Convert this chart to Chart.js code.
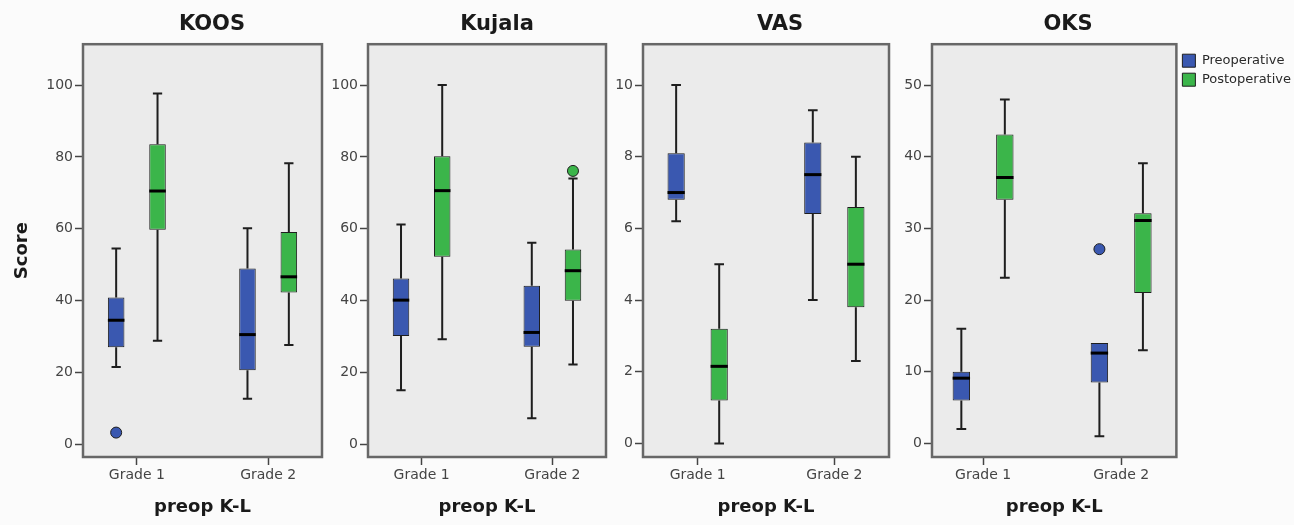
<!DOCTYPE html>
<html>
<head>
<meta charset="utf-8">
<title>Scores by preop K-L grade</title>
<script src="https://cdn.jsdelivr.net/npm/chart.js@4.4.1/dist/chart.umd.min.js"></script>
<style>
  html, body { margin: 0; padding: 0; background: #fbfbfb; }
  body { position: relative; width: 1294px; height: 525px; overflow: hidden; }
  canvas { position: absolute; top: 0; }
</style>
</head>
<body>
<canvas id="c0" width="424" height="525" style="left:0px"></canvas>
<canvas id="c1" width="334" height="525" style="left:330px"></canvas>
<canvas id="c2" width="330" height="525" style="left:615px"></canvas>
<canvas id="c3" width="466" height="525" style="left:835px"></canvas>
<script>
const grades = ['Grade 1', 'Grade 2'];
const seriesNames = ['Preoperative', 'Postoperative'];
const titles = ['KOOS', 'Kujala', 'VAS', 'OKS'];

// five-number summaries [min, q1, median, q3, max], one per grade
const koosPre = [[21.5, 27, 34.5, 40.8, 54.5], [12.6, 20.6, 30.5, 48.9, 60.1]];
const koosPost = [[28.8, 59.7, 70.5, 83.5, 97.7], [27.6, 42.2, 46.6, 59.1, 78.2]];
const kujalaPre = [[15, 30.1, 40.1, 46.1, 61.2], [7.2, 27.1, 31.1, 44.1, 56.1]];
const kujalaPost = [[29.2, 52.2, 70.6, 80.2, 100], [22.2, 39.9, 48.3, 54.2, 74]];
const vasPre = [[6.2, 6.8, 7.0, 8.1, 10], [4.0, 6.4, 7.5, 8.4, 9.3]];
const vasPost = [[0, 1.2, 2.15, 3.2, 5.0], [2.3, 3.8, 5.0, 6.6, 8.0]];
const oksPre = [[2.0, 6.0, 9.1, 10, 16], [1.0, 8.5, 12.6, 14, 14]];
const oksPost = [[23.1, 34.0, 37.1, 43.1, 48], [13, 21, 31.1, 32.1, 39.1]];

// outliers, one list per grade
const koosPreOut = [[3.2], []];
const kujalaPostOut = [[], [76.1]];
const oksPreOut = [[], [27.1]];
const noOut = [[], []];

const yMins = [-3.6, -3.6, -0.38, -1.9];
const yMaxs = [111.4, 111.4, 11.14, 55.7];
const ySteps = [20, 20, 2, 10];
const xMins = [-0.41, -0.41, -0.40, -0.37];
const xMaxs = [1.41, 1.41, 1.40, 1.40];

const BLUE = '#3a58b0';
const GREEN = '#3bb54a';
const CAT_PCT = 0.63;
const FONT = 'DejaVu Sans';

// whiskers, medians, plot background and frame
const boxParts = {
  id: 'boxParts',
  beforeDraw(chart) {
    const {ctx, chartArea: a} = chart;
    ctx.save();
    ctx.fillStyle = '#ebebeb';
    ctx.fillRect(a.left, a.top, a.width, a.height);
    ctx.restore();
  },
  beforeDatasetsDraw(chart) {
    const {ctx, scales: {y}} = chart;
    ctx.save();
    ctx.strokeStyle = '#1e1e1e';
    ctx.lineWidth = 2;
    chart.data.datasets.forEach((ds, di) => {
      if (!ds.stats) return;
      chart.getDatasetMeta(di).data.forEach((bar, j) => {
        const s = ds.stats[j];
        const cap = bar.width * 0.28;
        [[s[3], s[4]], [s[1], s[0]]].forEach(([from, to]) => {
          if (from === to) return;
          const y0 = y.getPixelForValue(from), y1 = y.getPixelForValue(to);
          ctx.beginPath();
          ctx.moveTo(bar.x, y0); ctx.lineTo(bar.x, y1);
          ctx.moveTo(bar.x - cap, y1); ctx.lineTo(bar.x + cap, y1);
          ctx.stroke();
        });
      });
    });
    ctx.restore();
  },
  afterDatasetsDraw(chart) {
    const {ctx, scales: {y}} = chart;
    ctx.save();
    ctx.strokeStyle = '#000';
    ctx.lineWidth = 3;
    chart.data.datasets.forEach((ds, di) => {
      if (!ds.stats) return;
      chart.getDatasetMeta(di).data.forEach((bar, j) => {
        const ym = y.getPixelForValue(ds.stats[j][2]);
        ctx.beginPath();
        ctx.moveTo(bar.x - bar.width / 2, ym);
        ctx.lineTo(bar.x + bar.width / 2, ym);
        ctx.stroke();
      });
    });
    ctx.restore();
  },
  afterDraw(chart) {
    const {ctx, chartArea: a} = chart;
    ctx.save();
    ctx.strokeStyle = '#676767';
    ctx.lineWidth = 2.5;
    ctx.strokeRect(a.left, a.top, a.width, a.height);
    ctx.restore();
  }
};

function boxData(stats) {
  return stats.map((s, i) => ({x: i, y: [s[1], s[3]]}));
}

function outlierData(out, side) {
  const pts = [];
  out.forEach((vals, i) => vals.forEach(v => pts.push({x: i + side * CAT_PCT / 4, y: v})));
  return pts;
}

function makePanel(id, k, pre, post, preOut, postOut, yW, rW) {
  const tickFont = {family: FONT, size: 14};
  const tickGrid = {drawOnChartArea: false, drawTicks: true, tickLength: 8, tickColor: '#444', tickWidth: 1.5};
  const scales = {
    x: {
      type: 'linear', min: xMins[k], max: xMaxs[k], offset: false,
      grid: Object.assign({offset: false}, tickGrid),
      border: {display: false},
      afterBuildTicks: s => { s.ticks = [{value: 0}, {value: 1}]; },
      afterFit: s => { s.height = 68; },
      ticks: {font: tickFont, color: '#444', padding: 2, autoSkip: false, maxRotation: 0,
        callback: v => grades[v]},
      title: {display: true, text: 'preop K-L', color: '#1a1a1a',
        font: {family: FONT, size: 18, weight: 'bold'}, padding: {top: 0, bottom: 7}}
    },
    y: {
      min: yMins[k], max: yMaxs[k],
      grid: tickGrid,
      border: {display: false},
      afterFit: s => { s.width = yW; },
      ticks: {stepSize: ySteps[k], includeBounds: false, font: tickFont, color: '#444', padding: 2},
      title: {display: k === 0, text: 'Score', color: '#1a1a1a',
        font: {family: FONT, size: 18, weight: 'bold'}, padding: {top: 12, bottom: 0}}
    }
  };
  if (rW) {
    scales.yr = {position: 'right', grid: {display: false}, border: {display: false},
      ticks: {display: false}, afterFit: s => { s.width = rW; }};
  }
  new Chart(document.getElementById(id), {
    type: 'bar',
    data: {
      datasets: [
        {label: seriesNames[0], data: boxData(pre), stats: pre, backgroundColor: BLUE,
          borderColor: '#1e1e1e', borderWidth: 1, borderSkipped: false,
          categoryPercentage: CAT_PCT, barPercentage: 0.4},
        {label: seriesNames[1], data: boxData(post), stats: post, backgroundColor: GREEN,
          borderColor: '#1e1e1e', borderWidth: 1, borderSkipped: false,
          categoryPercentage: CAT_PCT, barPercentage: 0.4},
        {type: 'scatter', label: 'out-pre', data: outlierData(preOut, -1), order: -1,
          pointRadius: 5.5, backgroundColor: BLUE, borderColor: '#1e1e1e', borderWidth: 1},
        {type: 'scatter', label: 'out-post', data: outlierData(postOut, 1), order: -1,
          pointRadius: 5.5, backgroundColor: GREEN, borderColor: '#1e1e1e', borderWidth: 1}
      ]
    },
    options: {
      responsive: false,
      animation: false,
      devicePixelRatio: 1,
      layout: {padding: 0},
      scales: scales,
      plugins: {
        tooltip: {enabled: false},
        title: {display: true, text: titles[k], color: '#1a1a1a',
          font: {family: FONT, size: 21, weight: 'bold'}, padding: {top: 12, bottom: 7}},
        legend: {
          display: k === 3, position: 'right', align: 'start', fullSize: false, maxWidth: 200,
          title: {display: true, text: '', font: {size: 2}, padding: {top: 1.6, bottom: 0}},
          labels: {boxWidth: 13, boxHeight: 13, padding: 6, color: '#2a2a2a',
            font: {family: FONT, size: 13},
            filter: item => item.datasetIndex < 2}
        }
      }
    },
    plugins: [boxParts]
  });
}

makePanel('c0', 0, koosPre, koosPost, koosPreOut, noOut, 83, 102);
makePanel('c1', 1, kujalaPre, kujalaPost, noOut, kujalaPostOut, 38, 58);
makePanel('c2', 2, vasPre, vasPost, noOut, noOut, 28, 56);
makePanel('c3', 3, oksPre, oksPost, oksPreOut, noOut, 97, 0);
</script>
</body>
</html>
